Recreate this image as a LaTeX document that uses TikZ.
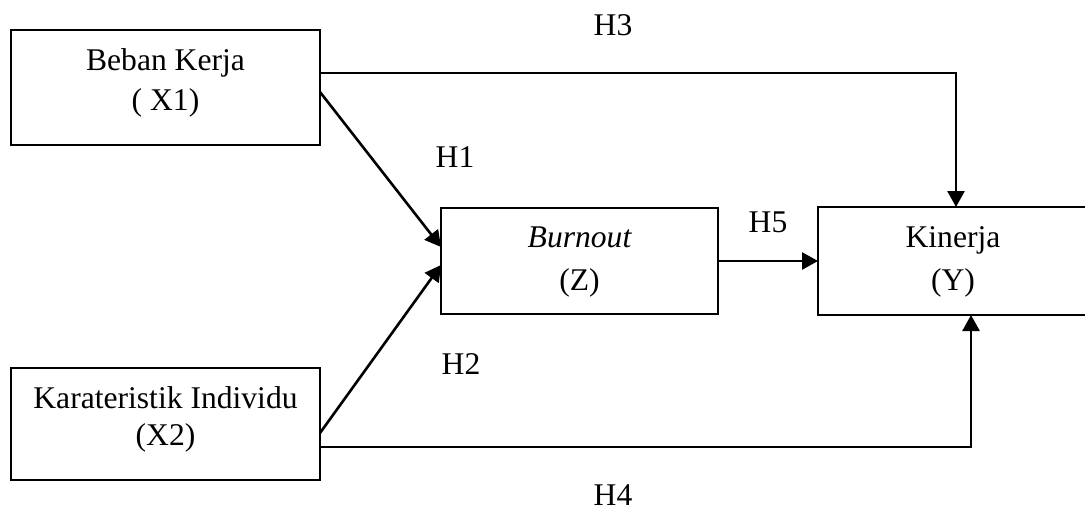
\documentclass[tikz,border=0pt]{standalone}
\usepackage{fontspec}
\setmainfont{Liberation Serif}
\usetikzlibrary{arrows.meta}
\begin{document}
\begin{tikzpicture}[x=0.5pt,y=-0.5pt,
  box/.style={draw,line width=1.2pt,inner sep=0pt,outer sep=0pt,fill=none},
  txt/.style={anchor=base,inner sep=0pt,font=\fontsize{15.8}{19}\selectfont},
  arr/.style={line width=1.3pt,-{Triangle[length=8pt,width=8.5pt]}}]
\useasboundingbox (0,0) rectangle (1085,509);
\fill[white] (0,0) rectangle (1085,509);

% variable boxes
\node[box,minimum width=154.5pt,minimum height=57.5pt] (X1) at (165.5,87.5) {};
\node[box,minimum width=154.5pt,minimum height=56pt] (X2) at (165.5,424) {};
\node[box,minimum width=138.5pt,minimum height=53pt] (Z) at (579.5,261) {};
\node[box,minimum width=136pt,minimum height=54pt] (Y) at (954,261) {};

% box captions
\node[txt] (x1a) at (165.5,70) {Beban Kerja};
\node[txt] (x1b) at (165.5,110) {( X1)};
\node[txt] (x2a) at (165.5,408) {Karateristik Individu};
\node[txt] (x2b) at (165.5,445) {(X2)};
\node[txt] (za) at (579.5,247) {\itshape Burnout};
\node[txt] (zb) at (579.5,290) {(Z)};
\node[txt] (ya) at (953,247) {Kinerja};
\node[txt] (yb) at (953,290) {(Y)};

% hypothesis labels
\node[txt] (h1) at (455,167) {H1};
\node[txt] (h2) at (461,374) {H2};
\node[txt] (h3) at (613,35) {H3};
\node[txt] (h4) at (613,505) {H4};
\node[txt] (h5) at (768,232) {H5};

% bend points of the direct paths
\coordinate (k3) at (956,73);
\coordinate (k4) at (971,447);

% paths
\draw[arr] ([yshift=-2.25pt]X1.east) -- ([yshift=7pt]Z.west);
\draw[arr] ([yshift=-4.5pt]X2.east) -- ([yshift=-2pt]Z.west);
\draw[arr] (Z.east) -- (Y.west);
\draw[arr] (X1.east |- k3) -| (k3 |- Y.north);
\draw[arr] (X2.east |- k4) -| (k4 |- Y.south);
\end{tikzpicture}
\end{document}
